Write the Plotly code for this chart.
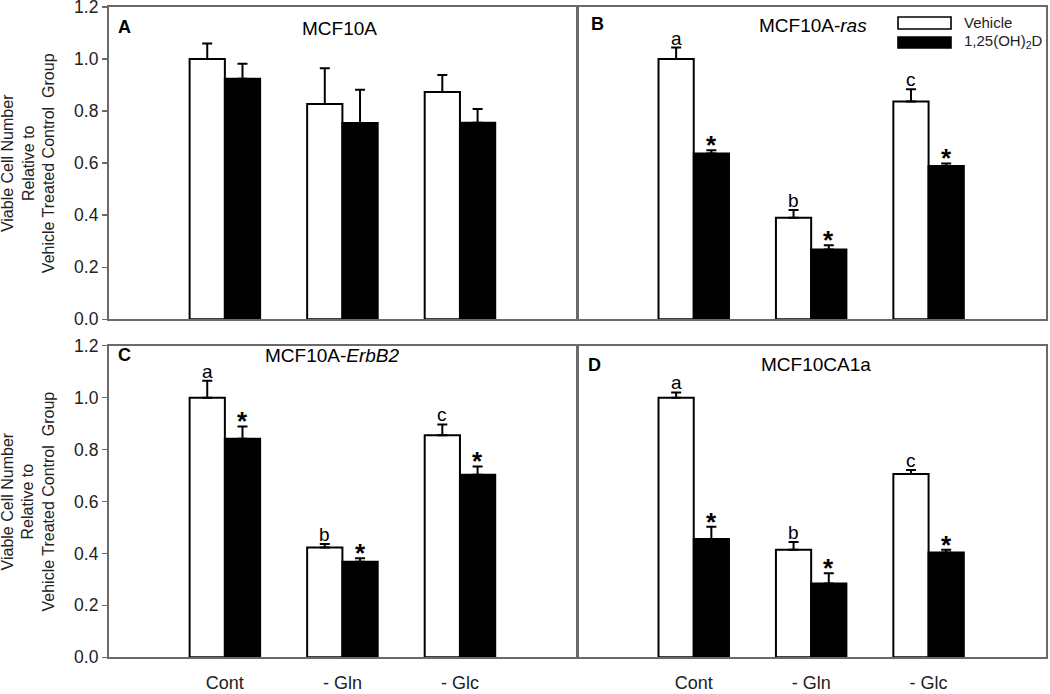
import plotly.graph_objects as go

# ---------------- data ----------------
categories = ["Cont", "- Gln", "- Glc"]

A_vehicle = [1.00, 0.827, 0.873]
A_vehicle_err = [0.060, 0.138, 0.066]
A_treated = [0.924, 0.754, 0.755]
A_treated_err = [0.058, 0.128, 0.053]

B_vehicle = [1.00, 0.390, 0.837]
B_vehicle_err = [0.044, 0.030, 0.047]
B_treated = [0.637, 0.268, 0.589]
B_treated_err = [0.013, 0.017, 0.010]

C_vehicle = [1.00, 0.423, 0.855]
C_vehicle_err = [0.065, 0.013, 0.042]
C_treated = [0.842, 0.368, 0.703]
C_treated_err = [0.047, 0.013, 0.032]

D_vehicle = [1.00, 0.414, 0.706]
D_vehicle_err = [0.020, 0.030, 0.015]
D_treated = [0.456, 0.284, 0.404]
D_treated_err = [0.047, 0.040, 0.010]

vehicle_letters = ["a", "b", "c"]
treated_mark = "*"

y_ticks = [0.0, 0.2, 0.4, 0.6, 0.8, 1.0, 1.2]
y_title = "Viable Cell Number<br>Relative to<br>Vehicle Treated Control  Group"
series_names = ["Vehicle", "1,25(OH)<sub>2</sub>D"]

# ---------------- layout helpers ----------------
W, H = 1050, 694
FONT = "Arial, 'Liberation Sans', Helvetica, sans-serif"


def px(x):
    return x / W


def py(y):
    return 1 - y / H


xdom_left = [px(108.5), px(577.5)]
xdom_right = [px(577.5), px(1046)]
ydom_top = [py(319.3), py(7)]
ydom_bot = [py(657.3), py(345.7)]
XR = [-0.99, 3.0]
BAR_W = 0.3

panels = [
    ("A", "x", "y", A_vehicle, A_vehicle_err, A_treated, A_treated_err, False),
    ("B", "x2", "y2", B_vehicle, B_vehicle_err, B_treated, B_treated_err, True),
    ("C", "x3", "y3", C_vehicle, C_vehicle_err, C_treated, C_treated_err, True),
    ("D", "x4", "y4", D_vehicle, D_vehicle_err, D_treated, D_treated_err, True),
]

fig = go.Figure()
xpos = list(range(len(categories)))
annotations = []

for name, xa, ya, veh, verr, trt, terr, show_letters in panels:
    for vals, errs, fill, off, sname in [
        (veh, verr, "white", -BAR_W / 2, series_names[0]),
        (trt, terr, "black", BAR_W / 2, series_names[1]),
    ]:
        fig.add_trace(go.Bar(
            x=xpos, y=vals, xaxis=xa, yaxis=ya,
            width=BAR_W, offset=off - BAR_W / 2,
            marker=dict(color=fill, line=dict(color="black", width=2)),
            error_y=dict(type="data", symmetric=False, array=errs,
                         arrayminus=[0] * len(errs),
                         color="black", thickness=2, width=5),
            name=sname, showlegend=False,
        ))
    if show_letters:
        for i in xpos:
            annotations.append(dict(
                x=i - BAR_W / 2, y=veh[i] + verr[i], xref=xa, yref=ya,
                text=vehicle_letters[i], showarrow=False,
                xanchor="center", yanchor="bottom", yshift=-3,
                font=dict(family=FONT, size=19, color="black")))
            annotations.append(dict(
                x=i + BAR_W / 2, y=trt[i] + terr[i], xref=xa, yref=ya,
                text="<b>" + treated_mark + "</b>", showarrow=False,
                xanchor="center", yanchor="bottom", yshift=-12,
                font=dict(family=FONT, size=26, color="black")))

axis_line = dict(showline=True, linecolor="#6a6a6a", linewidth=1.6, mirror=True,
                 showgrid=False, zeroline=False, automargin=False,
                 ticklabeloverflow="allow")

lay = dict(
    width=W, height=H, autosize=False,
    margin=dict(l=0, r=0, t=0, b=0, pad=0),
    paper_bgcolor="white", plot_bgcolor="white",
    barmode="overlay",
    font=dict(family=FONT, size=18, color="#222"),
)

xdefs = {"x": (xdom_left, "y", False), "x2": (xdom_right, "y2", False),
         "x3": (xdom_left, "y3", True), "x4": (xdom_right, "y4", True)}
ydefs = {"y": (ydom_top, "x", True), "y2": (ydom_top, "x2", False),
         "y3": (ydom_bot, "x3", True), "y4": (ydom_bot, "x4", False)}

for k, (dom, anchor, showlab) in xdefs.items():
    key = "xaxis" if k == "x" else "xaxis" + k[1:]
    lay[key] = dict(domain=dom, anchor=anchor, range=XR, tickvals=xpos,
                    ticktext=categories, showticklabels=showlab, ticks="",
                    ticklabelstandoff=8, fixedrange=True,
                    tickfont=dict(family=FONT, size=18, color="#222"), **axis_line)
for k, (dom, anchor, showlab) in ydefs.items():
    key = "yaxis" if k == "y" else "yaxis" + k[1:]
    lay[key] = dict(domain=dom, anchor=anchor, range=[0, 1.2], tickvals=y_ticks,
                    tickformat=".1f", showticklabels=showlab,
                    ticks="outside" if showlab else "", ticklen=5, tickwidth=1.5,
                    tickcolor="#6a6a6a", fixedrange=True,
                    tickfont=dict(family=FONT, size=17.5, color="#222"), **axis_line)

# panel letters and titles
titles = [
    ("<b>A</b>", 124, 27, 18), ("MCF10A", 339, 29, 19),
    ("<b>B</b>", 597, 24, 18), ("MCF10A-<i>ras</i>", 813, 26, 19),
    ("<b>C</b>", 124, 355, 18), ("MCF10A-<i>ErbB2</i>", 333, 355, 19),
    ("<b>D</b>", 594, 365, 18), ("MCF10CA1a", 816, 364, 19),
]
for t, x, y, s in titles:
    annotations.append(dict(x=px(x), y=py(y), xref="paper", yref="paper", text=t,
                            showarrow=False, xanchor="center", yanchor="middle",
                            font=dict(family=FONT, size=s, color="black")))

# y-axis titles
for yc in [(7 + 319.3) / 2, (345.7 + 657.3) / 2]:
    annotations.append(dict(x=px(28), y=py(yc), xref="paper", yref="paper",
                            text=y_title, textangle=-90, showarrow=False,
                            xanchor="center", yanchor="middle",
                            font=dict(family=FONT, size=16, color="#222")))

# legend (drawn in panel B)
shapes = [
    dict(type="rect", xref="paper", yref="paper", x0=px(898), x1=px(951),
         y0=py(29), y1=py(17), fillcolor="white", line=dict(color="black", width=1.6)),
    dict(type="rect", xref="paper", yref="paper", x0=px(898), x1=px(951),
         y0=py(48), y1=py(37), fillcolor="black", line=dict(color="black", width=1.6)),
]
for t, y in [(series_names[0], 22), (series_names[1], 42)]:
    annotations.append(dict(x=px(962), y=py(y), xref="paper", yref="paper", text=t,
                            showarrow=False, xanchor="left", yanchor="middle",
                            font=dict(family=FONT, size=15, color="#222")))

lay["annotations"] = annotations
lay["shapes"] = shapes
fig.update_layout(**lay)

post = (
    "var gd=document.getElementById('{plot_id}');"
    "gd.style.position='fixed';gd.style.top='0px';gd.style.left='0px';"
    "document.documentElement.style.overflow='hidden';"
    "document.body.style.margin='0';document.body.style.padding='0';"
    "document.body.style.overflow='hidden';"
)
fig.write_html("out.html",
               config={"displayModeBar": False, "staticPlot": True},
               post_script=post)
